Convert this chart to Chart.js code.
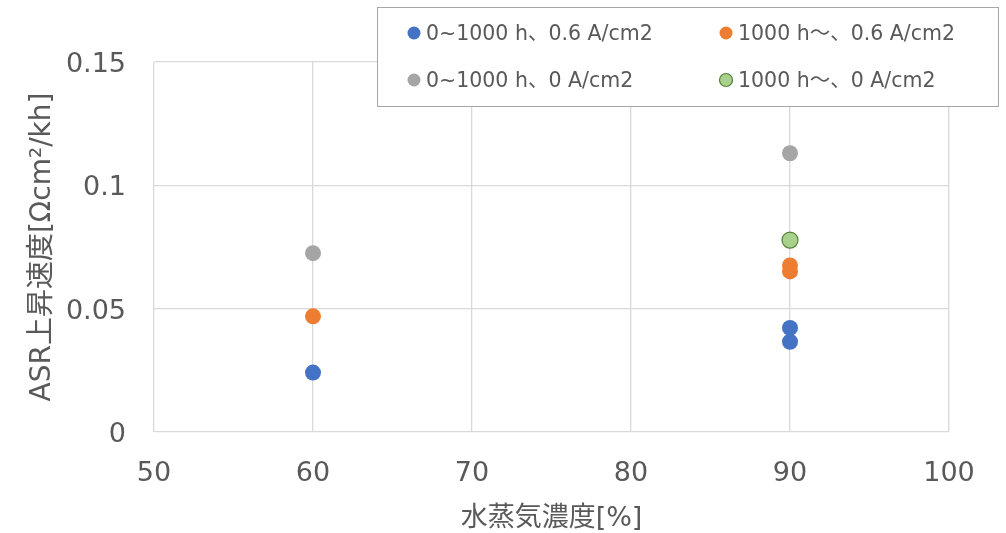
<!DOCTYPE html>
<html>
<head>
<meta charset="utf-8">
<script src="https://cdn.jsdelivr.net/npm/chart.js"></script>
<style>
  html, body { margin: 0; padding: 0; background: #fff; }
  #wrap { width: 1006px; height: 533px; }
</style>
</head>
<body>
<div id="wrap"><canvas id="asrChart" width="1006" height="533"></canvas></div>
<script>
const FONT = "'DejaVu Sans', 'Noto Sans CJK JP', sans-serif";
const TEXT = '#595959';

// water vapour concentration [%] and ASR rise rate per series
const labels = ['0~1000 h、0.6 A/cm2', '1000 h～、0.6 A/cm2', '0~1000 h、0 A/cm2', '1000 h～、0 A/cm2'];
const blueX = [60, 90, 90];
const blueY = [0.0241, 0.0422, 0.0366];
const orangeX = [60, 90, 90];
const orangeY = [0.0469, 0.0675, 0.0651];
const grayX = [60, 90];
const grayY = [0.0725, 0.113];
const greenX = [90];
const greenY = [0.0778];

const xTicks = [50, 60, 70, 80, 90, 100];
const yTicks = [0, 0.05, 0.1, 0.15];

function pts(xs, ys) {
  return xs.map((x, i) => ({ x: x, y: ys[i] }));
}

function series(label, xs, ys, fill, border, bw) {
  return {
    label: label,
    data: pts(xs, ys),
    backgroundColor: fill,
    borderColor: border,
    borderWidth: bw,
    pointRadius: 8,
    pointHoverRadius: 8
  };
}

// legend box drawn over the top-right of the plot
const boxLegend = {
  id: 'boxLegend',
  afterDraw(chart) {
    const ctx = chart.ctx;
    const left = 377, top = 7, w = 621, h = 99;
    ctx.save();
    ctx.fillStyle = '#fff';
    ctx.fillRect(left, top, w, h);
    ctx.strokeStyle = '#a6a6a6';
    ctx.lineWidth = 1;
    ctx.strokeRect(left + 0.5, top + 0.5, w, h);
    const cols = [414, 726];
    const rows = [33, 80];
    ctx.font = '20.5px ' + FONT;
    ctx.textBaseline = 'middle';
    chart.data.datasets.forEach((ds, i) => {
      const cx = cols[i % 2], cy = rows[Math.floor(i / 2)];
      ctx.beginPath();
      ctx.arc(cx, cy, 6.5, 0, Math.PI * 2);
      ctx.fillStyle = ds.backgroundColor;
      ctx.fill();
      if (ds.borderWidth > 0) {
        ctx.strokeStyle = ds.borderColor;
        ctx.lineWidth = ds.borderWidth;
        ctx.stroke();
      }
      ctx.fillStyle = TEXT;
      ctx.fillText(ds.label, cx + 12, cy + 2);
    });
    ctx.restore();
  }
};

new Chart(document.getElementById('asrChart'), {
  type: 'scatter',
  data: {
    datasets: [
      series(labels[0], blueX, blueY, '#4472C4', '#4472C4', 0),
      series(labels[1], orangeX, orangeY, '#ED7D31', '#ED7D31', 0),
      series(labels[2], grayX, grayY, '#A5A5A5', '#A5A5A5', 0),
      series(labels[3], greenX, greenY, '#A9D18E', '#548235', 1.2)
    ]
  },
  options: {
    responsive: false,
    animation: false,
    layout: { padding: { top: 62, right: 57, left: 0, bottom: 0 } },
    plugins: {
      legend: { display: false },
      tooltip: { enabled: false }
    },
    scales: {
      x: {
        type: 'linear',
        min: 50,
        max: 100,
        afterBuildTicks(scale) { scale.ticks = xTicks.map(v => ({ value: v })); },
        afterFit(scale) { scale.height = 101; },
        grid: { color: '#d9d9d9', drawTicks: false, lineWidth: 1.3 },
        border: { display: false },
        ticks: { color: TEXT, font: { family: FONT, size: 27 }, padding: 26 },
        title: {
          display: true,
          text: '水蒸気濃度[%]',
          color: TEXT,
          font: { family: FONT, size: 27 },
          padding: { top: 0, bottom: -2 }
        }
      },
      y: {
        type: 'linear',
        min: 0,
        max: 0.15,
        afterBuildTicks(scale) { scale.ticks = yTicks.map(v => ({ value: v })); },
        afterFit(scale) { scale.width = 154; },
        grid: { color: '#d9d9d9', drawTicks: false, lineWidth: 1.3 },
        border: { display: false },
        ticks: {
          color: TEXT,
          font: { family: FONT, size: 27 },
          padding: 28,
          labelOffset: 3,
          callback: v => String(v)
        },
        title: {
          display: true,
          text: 'ASR上昇速度[Ωcm²/kh]',
          color: TEXT,
          font: { family: FONT, size: 28 },
          padding: { top: 26, bottom: 0 }
        }
      }
    }
  },
  plugins: [boxLegend]
});
</script>
</body>
</html>
